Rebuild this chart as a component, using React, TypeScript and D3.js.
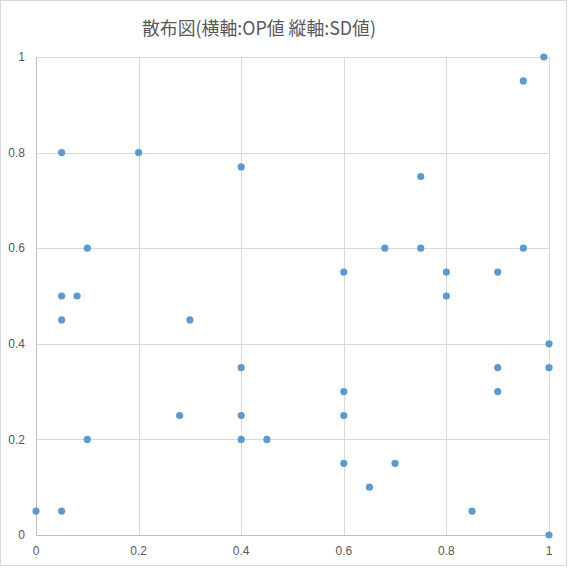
import { useEffect, useRef } from 'react'
import * as d3 from 'd3'

// OP values (x) and SD values (y)
const opValues = [
  0, 0.05, 0.05, 0.2, 0.4, 0.1, 0.05, 0.08, 0.05, 0.3, 0.1, 0.28, 0.4, 0.4, 0.4, 0.45, 0.6, 0.6, 0.6,
  0.6, 0.65, 0.7, 0.68, 0.75, 0.75, 0.8, 0.8, 0.85, 0.9, 0.9, 0.9, 0.95, 0.95, 0.99, 1, 1, 1,
]
const sdValues = [
  0.05, 0.05, 0.8, 0.8, 0.77, 0.6, 0.5, 0.5, 0.45, 0.45, 0.2, 0.25, 0.35, 0.25, 0.2, 0.2, 0.55, 0.3, 0.25,
  0.15, 0.1, 0.15, 0.6, 0.75, 0.6, 0.55, 0.5, 0.05, 0.55, 0.35, 0.3, 0.95, 0.6, 1, 0.4, 0.35, 0,
]
const xTicks = [0, 0.2, 0.4, 0.6, 0.8, 1]
const yTicks = [0, 0.2, 0.4, 0.6, 0.8, 1]
const title = '散布図(横軸:OP値 縦軸:SD値)'

const App = () => {
  const svgRef = useRef<SVGSVGElement | null>(null)

  useEffect(() => {
    const svg = d3.select(svgRef.current)
    svg.selectAll('*').remove()

    const width = 568
    const height = 569
    const left = 36
    const right = 549
    const top = 57
    const bottom = 535

    svg.attr('width', width).attr('height', height).attr('viewBox', `0 0 ${width} ${height}`)

    svg
      .append('rect')
      .attr('x', 0.5)
      .attr('y', 0.5)
      .attr('width', width - 2)
      .attr('height', 565)
      .attr('fill', '#fff')
      .attr('stroke', '#d9d9d9')

    const x = d3.scaleLinear().domain([0, 1]).range([left, right])
    const y = d3.scaleLinear().domain([0, 1]).range([bottom, top])

    const fontFamily = '"Noto Sans CJK JP", "Noto Sans", sans-serif'

    svg
      .append('text')
      .attr('x', 142)
      .attr('y', 35)
      .attr('fill', '#595959')
      .attr('font-family', fontFamily)
      .attr('font-size', 18.5)
      .attr('textLength', 234)
      .attr('lengthAdjust', 'spacingAndGlyphs')
      .text(title)

    const grid = svg.append('g')
    grid
      .selectAll('line.v')
      .data(xTicks.slice(1))
      .join('line')
      .attr('x1', (d) => Math.round(x(d)) + 0.5)
      .attr('x2', (d) => Math.round(x(d)) + 0.5)
      .attr('y1', top)
      .attr('y2', bottom)
      .attr('stroke', '#d9d9d9')
    grid
      .selectAll('line.h')
      .data(yTicks.slice(1))
      .join('line')
      .attr('x1', left)
      .attr('x2', right)
      .attr('y1', (d) => Math.round(y(d)) + 0.5)
      .attr('y2', (d) => Math.round(y(d)) + 0.5)
      .attr('stroke', '#d9d9d9')

    // axis lines
    svg
      .append('line')
      .attr('x1', left + 0.5)
      .attr('x2', left + 0.5)
      .attr('y1', top)
      .attr('y2', bottom)
      .attr('stroke', '#bfbfbf')
    svg
      .append('line')
      .attr('x1', left)
      .attr('x2', right)
      .attr('y1', bottom + 0.5)
      .attr('y2', bottom + 0.5)
      .attr('stroke', '#bfbfbf')

    const fmt = (d: number) => (d === 0 || d === 1 ? String(d) : d.toFixed(1))

    svg
      .append('g')
      .selectAll('text')
      .data(yTicks)
      .join('text')
      .attr('x', 25)
      .attr('y', (d) => y(d))
      .attr('dy', '0.35em')
      .attr('text-anchor', 'end')
      .attr('fill', '#595959')
      .attr('font-family', '"Liberation Sans", sans-serif')
      .attr('font-size', 12)
      .text(fmt)

    svg
      .append('g')
      .selectAll('text')
      .data(xTicks)
      .join('text')
      .attr('x', (d) => x(d))
      .attr('y', 551)
      .attr('dy', '0.35em')
      .attr('text-anchor', 'middle')
      .attr('fill', '#595959')
      .attr('font-family', '"Liberation Sans", sans-serif')
      .attr('font-size', 12)
      .text(fmt)

    const points = opValues.map((op, i) => ({ op, sd: sdValues[i] }))
    svg
      .append('g')
      .selectAll('circle')
      .data(points)
      .join('circle')
      .attr('cx', (d) => x(d.op))
      .attr('cy', (d) => y(d.sd))
      .attr('r', 3.6)
      .attr('fill', '#5b9bd5')
  }, [])

  return <svg ref={svgRef} style={{ display: 'block', position: 'absolute', left: 0, top: 0 }} />
}

export default App
